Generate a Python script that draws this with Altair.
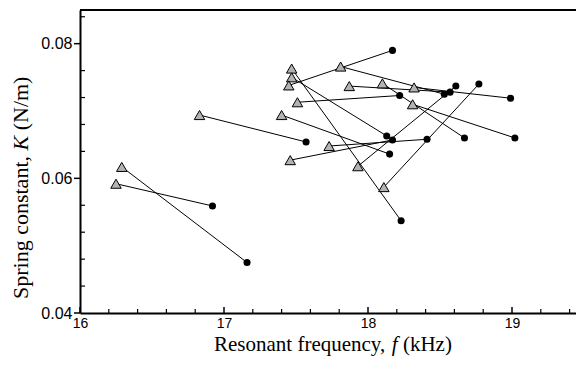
import altair as alt
import pandas as pd

# Triangle (gray) points and their paired circle (black) points
tri_f = [16.25, 16.29, 16.83, 17.40, 17.46, 17.47, 17.47, 17.45, 17.51, 17.73, 17.81, 17.87, 18.10, 18.32, 18.31, 17.93, 18.11]
tri_k = [0.0592, 0.0617, 0.0694, 0.0694, 0.0627, 0.0763, 0.0750, 0.0738, 0.0713, 0.0648, 0.0766, 0.0737, 0.0741, 0.0735, 0.0710, 0.0618, 0.0587]
circ_f = [16.92, 17.16, 17.57, 18.15, 18.17, 18.23, 18.13, 18.17, 18.22, 18.41, 18.53, 18.57, 18.67, 18.99, 19.02, 18.61, 18.77]
circ_k = [0.0559, 0.0475, 0.0654, 0.0636, 0.0657, 0.0537, 0.0663, 0.0790, 0.0723, 0.0658, 0.0725, 0.0728, 0.0660, 0.0719, 0.0660, 0.0737, 0.0740]

x_major = [16, 17, 18, 19]
x_minor = [16.2, 16.4, 16.6, 16.8, 17.2, 17.4, 17.6, 17.8, 18.2, 18.4, 18.6, 18.8, 19.2, 19.4]
y_major = [0.04, 0.06, 0.08]
y_minor = [0.044, 0.048, 0.052, 0.056, 0.064, 0.068, 0.072, 0.076, 0.084]

W, H = 496, 303
XDOM = [16, 16 + W / 144.0]
YDOM = [0.04, 0.085]

xs = alt.Scale(domain=XDOM, nice=False, zero=False)
ys = alt.Scale(domain=YDOM, nice=False, zero=False)

XAX = alt.Axis(values=x_major, ticks=False, grid=False, domainColor="black", domainWidth=2,
               labelFont="Liberation Sans", labelFontSize=14, labelColor="black",
               labelPadding=3, labelFlush=False, format="d", title=None)
YAX = alt.Axis(values=y_major, ticks=False, grid=False, domainColor="black", domainWidth=2,
               labelFont="Liberation Sans", labelFontSize=16, labelColor="black",
               labelPadding=8, labelFlush=False, format=".2f", title=None)

n = len(tri_f)
tri = pd.DataFrame({"f": tri_f, "k": tri_k, "pair": list(range(n)), "o": [0] * n})
circ = pd.DataFrame({"f": circ_f, "k": circ_k, "pair": list(range(n)), "o": [1] * n})
seg = pd.concat([tri, circ], ignore_index=True)

def X(field):
    return alt.X(field, scale=xs, axis=XAX)

def Y(field):
    return alt.Y(field, scale=ys, axis=YAX)

lines = alt.Chart(seg).mark_line(color="black", strokeWidth=1).encode(
    x=X("f:Q"), y=Y("k:Q"), detail="pair:N", order="o:Q",
)

tris = alt.Chart(tri).mark_point(
    shape="triangle-up", filled=True, fill="#b3b3b3", stroke="black",
    strokeWidth=1, size=110, opacity=1
).encode(x=X("f:Q"), y=Y("k:Q"))

circs = alt.Chart(circ).mark_circle(color="black", size=50, opacity=1).encode(
    x=X("f:Q"), y=Y("k:Q"))

# inward ticks
xmaj = alt.Chart(pd.DataFrame({"v": x_major})).mark_rule(color="black", strokeWidth=1.5).encode(
    x=X("v:Q"), y=alt.value(H), y2=alt.value(H - 6))
xmin = alt.Chart(pd.DataFrame({"v": x_minor})).mark_rule(color="black", strokeWidth=1.2).encode(
    x=X("v:Q"), y=alt.value(H), y2=alt.value(H - 4))
ymaj = alt.Chart(pd.DataFrame({"v": y_major})).mark_rule(color="black", strokeWidth=1.5).encode(
    y=Y("v:Q"), x=alt.value(-6), x2=alt.value(0))
ymin = alt.Chart(pd.DataFrame({"v": y_minor})).mark_rule(color="black", strokeWidth=1.2).encode(
    y=Y("v:Q"), x=alt.value(0), x2=alt.value(5))

top = alt.Chart(pd.DataFrame({"a": [0]})).mark_rule(color="black", strokeWidth=2).encode(
    x=alt.value(0), x2=alt.value(W), y=alt.value(0))

serif = "Liberation Serif"

def txt(s, x, y, fs, italic=False, angle=0):
    return alt.Chart(pd.DataFrame({"t": [s]})).mark_text(
        font=serif, fontSize=fs, fontStyle="italic" if italic else "normal",
        align="left", baseline="alphabetic", color="black", angle=angle
    ).encode(text="t:N", x=alt.value(x), y=alt.value(y))

# x title pieces
fx = 21
x0 = 134
w1 = 8.47 * fx
xt = [
    txt("Resonant frequency,", x0, 341, fx),
    txt("f", x0 + w1, 341, fx, italic=True),
    txt("(kHz)", x0 + w1 + (0.278 + 0.25) * fx, 341, fx),
]
# y title pieces (rotated, reading bottom to top)
fy = 22
ybase = -52
y0 = 289
v1 = 6.75 * fy
yt = [
    txt("Spring constant,", ybase, y0, fy, angle=270),
    txt("K", ybase, y0 - v1, fy, italic=True, angle=270),
    txt("(N/m)", ybase, y0 - v1 - (0.667 + 0.25) * fy, fy, angle=270),
]

chart = alt.layer(lines, tris, circs, xmaj, xmin, ymaj, ymin, top, *xt, *yt).properties(
    width=W, height=H,
    autosize=alt.AutoSizeParams(type="none"),
    padding={"left": 72, "top": 2, "right": 0, "bottom": 51},
).configure_view(stroke=None).configure(background="white")

chart.save("out.html", embed_options={"renderer": "svg", "actions": False})
